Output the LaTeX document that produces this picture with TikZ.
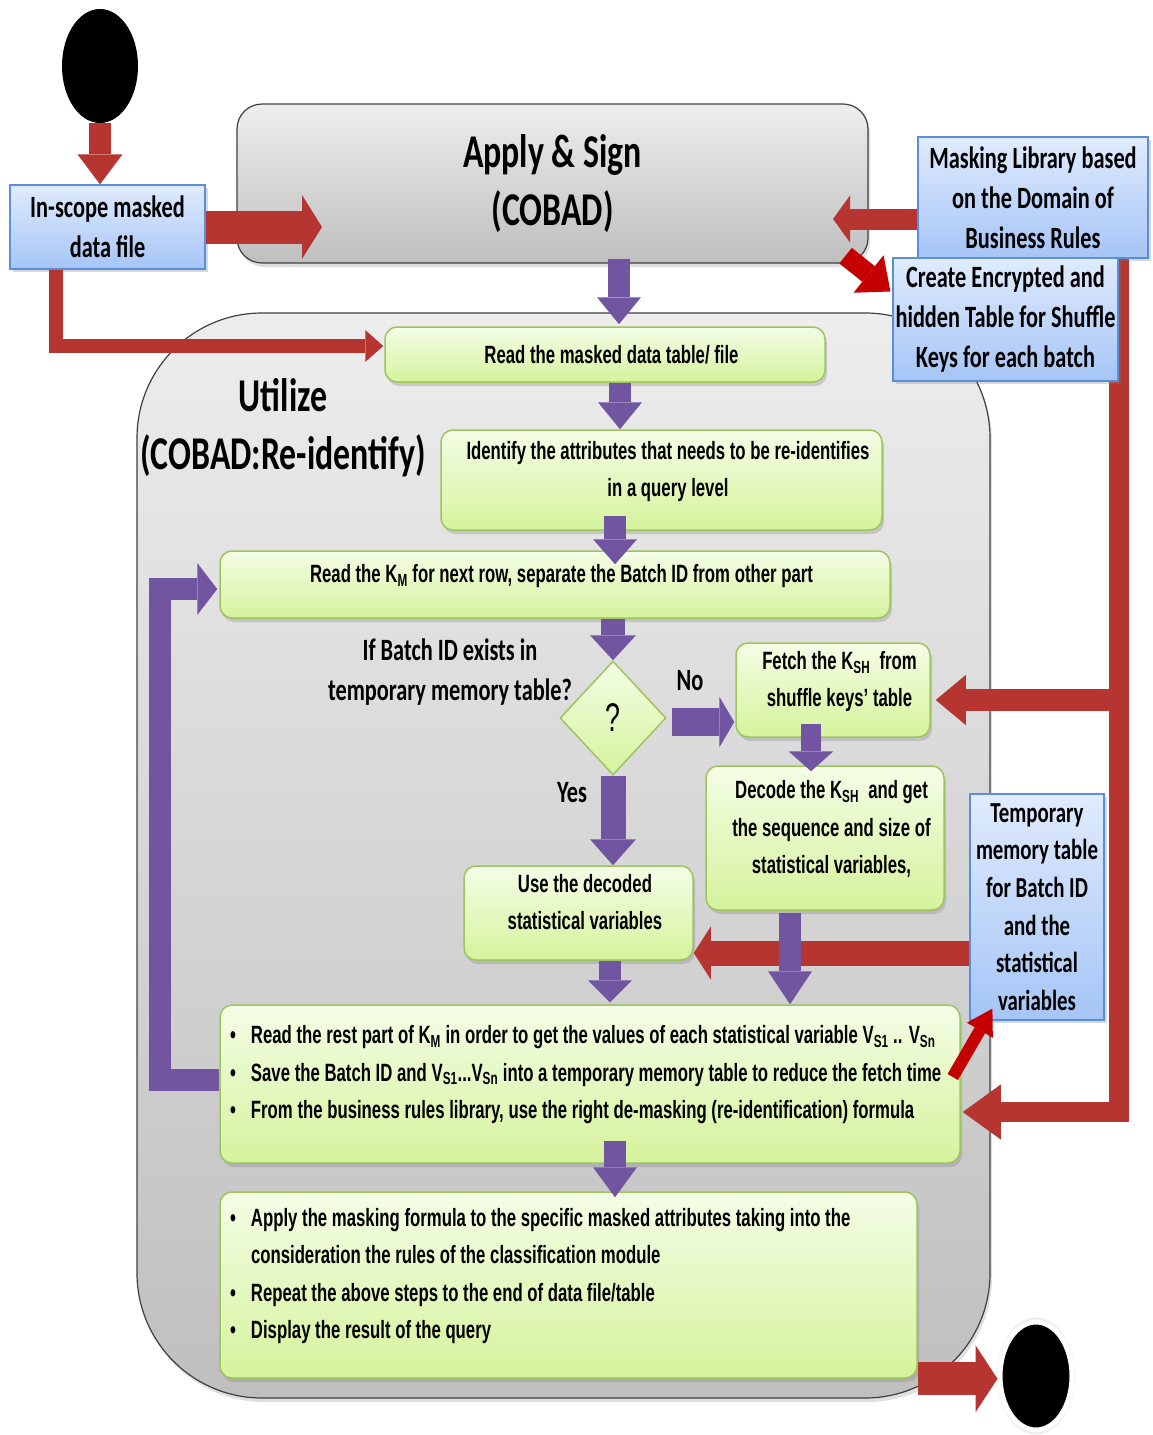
\documentclass[tikz,border=0pt]{standalone}
\usepackage{fontspec}
\newfontfamily\narrowfont{Liberation Sans}[FakeStretch=0.67]
\newfontfamily\calfont{Carlito}[FakeStretch=0.72]
\usetikzlibrary{shapes.geometric,arrows.meta,shadows,calc}

\definecolor{grnline}{HTML}{9DC45F}
\definecolor{grntop}{HTML}{F4FDE6}
\definecolor{grnbot}{HTML}{D5F39C}
\definecolor{bluline}{HTML}{5B8ED6}
\definecolor{blutop}{HTML}{E0EBFD}
\definecolor{blubot}{HTML}{A5C5F6}
\definecolor{arred}{HTML}{B73531}
\definecolor{arhot}{HTML}{C40000}
\definecolor{arpur}{HTML}{7155A1}
\definecolor{frametop}{HTML}{EDEDED}
\definecolor{framebot}{HTML}{BFBFBF}

\pgfdeclarelayer{bg}\pgfdeclarelayer{mid}\pgfdeclarelayer{fg}
\pgfsetlayers{bg,mid,main,fg}

\newcommand\greenfont{\narrowfont\bfseries\fontsize{25}{37.5}\selectfont}
\newcommand\bluefont{\calfont\bfseries\fontsize{31}{40}\selectfont}
\newcommand\tempfont{\calfont\bfseries\fontsize{29}{37.6}\selectfont}
\newcommand\titlefont{\calfont\bfseries\fontsize{47}{58}\selectfont}
\newcommand\labelfont{\calfont\bfseries\fontsize{31}{40}\selectfont}
\newcommand\bul{\makebox[21pt][l]{\textbullet}}
% centred lines in the green steps sit a little right of the box centre
\newcommand\ind{\hspace*{13pt}}

\tikzset{
  greenbox/.style={draw=grnline, line width=1.5pt, rounded corners=12pt,
    top color=grntop, bottom color=grnbot,
    drop shadow={shadow xshift=2pt, shadow yshift=-4pt, opacity=0.3},
    font=\greenfont, align=center, inner sep=4pt},
  lift/.style={text depth=22pt},
  bluebox/.style={draw=bluline, line width=1.2pt, top color=blutop, bottom color=blubot,
    drop shadow={shadow xshift=3pt, shadow yshift=-3pt, opacity=0.3},
    font=\bluefont, align=center, inner sep=2pt},
  graybox/.style={draw=black!75, line width=1.2pt, top color=frametop, bottom color=framebot},
  blackdot/.style={ellipse, fill=black, inner sep=0pt},
  blk/.style n args={3}{line width=#1, line cap=butt, line join=miter,
    -{Triangle[length=#2, width=#3, line width=0pt]}},
  redarr/.style={draw=arred},
  hotarr/.style={draw=arhot},
  purarr/.style={draw=arpur},
}

\begin{document}
\begin{tikzpicture}[x=1pt,y=-1pt]
\useasboundingbox (0,0) rectangle (1152,1435);

% ---------- background and the Utilize frame ----------
\begin{pgfonlayer}{bg}
  \fill[white] (0,0) rectangle (1152,1435);
  \node[graybox, rounded corners=125pt, minimum width=853pt, minimum height=1085pt,
        drop shadow={shadow xshift=2pt, shadow yshift=-4pt, opacity=0.25}] (util) at (563.5,855.5) {};
\end{pgfonlayer}

\node[font=\titlefont, align=center] (utillbl) at (283,428) {Utilize\\(COBAD:Re-identify)};

% ---------- start / end ----------
\node[blackdot, minimum width=76pt, minimum height=114pt] (start) at (100,66) {};
\node[blackdot, draw=white, line width=5pt, minimum width=72pt, minimum height=108pt,
      drop shadow={shadow xshift=0pt, shadow yshift=0pt, shadow scale=1.08, opacity=0.15}] (end) at (1036,1376) {};

% ---------- Apply & Sign ----------
\node[graybox, rounded corners=25pt, minimum width=631pt, minimum height=159pt,
      font=\titlefont, align=center,
      drop shadow={shadow xshift=2pt, shadow yshift=-4pt, opacity=0.25}] (apply) at (552.5,183.5) {Apply \& Sign\\(COBAD)};

% ---------- blue data boxes ----------
\node[bluebox, minimum width=195pt, minimum height=84pt] (inscope) at (107.5,227) {In-scope masked\\data file};
\node[bluebox, minimum width=230pt, minimum height=121pt] (mask) at (1033,197.5) {Masking Library based\\on the Domain of\\Business Rules};
\node[bluebox, minimum width=225pt, minimum height=123pt] (create) at (1005.5,319.5) {Create Encrypted and\\hidden Table for Shuffle\\Keys for each batch};
\node[bluebox, font=\tempfont, minimum width=134pt, minimum height=226pt] (temp) at (1037,907) {Temporary\\memory table\\for Batch ID\\and the\\statistical\\variables};

% ---------- green process steps ----------
\node[greenbox, minimum width=440pt, minimum height=55pt] (read1) at (605,354.5) {\ind Read the masked data table/ file};
\node[greenbox, lift, minimum width=441pt, minimum height=100pt] (ident) at (661.5,480) {\ind Identify the attributes that needs to be re-identifies\\\ind in a query level};
\node[greenbox, lift, minimum width=670pt, minimum height=67pt] (readkm) at (555,584.5) {\ind Read the K\textsubscript{M} for next row, separate the Batch ID from other part};
\node[diamond, draw=grnline, line width=1.5pt, top color=grntop, bottom color=grnbot, inner sep=0pt,
      minimum width=106pt, minimum height=114pt,
      font=\narrowfont\fontsize{40}{44}\selectfont] (dec) at (613,718) {?};
\node[greenbox, lift, minimum width=194pt, minimum height=94pt] (fetch) at (833,690) {\ind Fetch the K\textsubscript{SH}\ \ from\\\ind shuffle keys’ table};
\node[greenbox, lift, minimum width=238pt, minimum height=144pt] (decode) at (825,838) {\ind Decode the K\textsubscript{SH}\ \ and get\\\ind the sequence and size of\\\ind statistical variables,};
\node[greenbox, lift, minimum width=229pt, minimum height=94pt] (use) at (578.5,913) {\ind Use the decoded\\\ind statistical variables};
\node[greenbox, align=flush left, text width=720pt, text depth=99pt, minimum width=740pt, minimum height=158pt] (bul1) at (590,1084) {%
  \bul\mbox{Read the rest part of K\textsubscript{M} in order to get the values of each statistical variable V\textsubscript{S1} .. V\textsubscript{Sn}}\\
  \bul\mbox{Save the Batch ID and V\textsubscript{S1}...V\textsubscript{Sn} into a temporary memory table to reduce the fetch time}\\
  \bul\mbox{From the business rules library, use the right de-masking (re-identification) formula}};
\node[greenbox, align=flush left, text width=677pt, text depth=136pt, minimum width=697pt, minimum height=186pt] (bul2) at (568.5,1285) {%
  \bul\mbox{Apply the masking formula to the specific masked attributes taking into the}\\
  \hspace*{21pt}\mbox{consideration the rules of the classification module}\\
  \bul\mbox{Repeat the above steps to the end of data file/table}\\
  \bul\mbox{Display the result of the query}};

% ---------- decision labels ----------
\node[font=\labelfont, align=center] (question) at (450,672) {If Batch ID exists in\\temporary memory table?};
\node[font=\labelfont] (nolbl) at (690,681) {No};
\node[font=\labelfont] (yeslbl) at (572,793) {Yes};

% ---------- shuffle-key feed running down the right side ----------
\begin{pgfonlayer}{mid}
  \draw[redarr, blk={20pt}{38pt}{55pt}] ($(mask.south)+(86,0)$) |- ($(bul1.east)+(2,28)$);
\end{pgfonlayer}

% ---------- connectors ----------
\begin{pgfonlayer}{fg}
  \draw[redarr, blk={22pt}{30pt}{45pt}] (start.south) -- (start.south |- inscope.north);
  \coordinate (applyin) at (322,228);
  \draw[redarr, blk={33pt}{20pt}{64pt}] (inscope.east) -- (applyin |- inscope.east);
  \draw[redarr, blk={14pt}{18pt}{32pt}] ($(inscope.south)+(-51.5,0)$) |- ($(read1.west)+(-1,-8.5)$);
  \coordinate (applyright) at (833,219);
  \draw[redarr, blk={21pt}{17pt}{47pt}] (mask.west |- applyright) -- (applyright);
  \draw[hotarr, blk={20pt}{28pt}{48pt}] ($(apply.south east)+(-23,-8)$) -- ($(create.west)+(-2,-28)$);
  \draw[redarr, blk={22pt}{30pt}{50pt}] ($(fetch.east)+(189,10)$) -- ($(fetch.east)+(5,10)$);
  \draw[redarr, blk={25pt}{17pt}{53pt}] ($(temp.west)+(0,46)$) -- ($(use.east)+(0,40)$);
  \draw[hotarr, blk={12pt}{25pt}{30pt}] ($(bul1.east)+(-8,-7)$) -- ($(temp.south west)+(23,-12)$);
  \draw[redarr, blk={33pt}{22pt}{67pt}] (bul2.south east) -- (bul2.south east -| end.west);

  \draw[purarr, blk={22pt}{27pt}{44pt}] ($(apply.south)+(66.5,-5)$) -- ($(read1.north)+(14,-2)$);
  \draw[purarr, blk={22pt}{27pt}{44pt}] ($(read1.south)+(15,0)$) -- ($(ident.north)+(-41.5,0)$);
  \draw[purarr, blk={22pt}{25pt}{44pt}] ($(ident.south)+(-46.5,-15)$) -- ($(readkm.north)+(60,14)$);
  \draw[purarr, blk={24pt}{25pt}{46pt}] (dec.north |- readkm.south) -- (dec.north);
  \draw[purarr, blk={25pt}{26pt}{46pt}] (dec.south) -- (dec.south |- use.north);
  \draw[purarr, blk={28pt}{15pt}{51pt}] ($(dec.east)+(5,4)$) -- ($(fetch.west)+(-1,32)$);
  \draw[purarr, blk={20pt}{20pt}{45pt}] ($(fetch.south)+(-22,-14)$) -- ($(decode.north)+(-14,6)$);
  \draw[purarr, blk={22pt}{33pt}{44pt}] ($(decode.south)+(-35,2)$) -- ($(bul1.north)+(200,0)$);
  \draw[purarr, blk={22pt}{22pt}{44pt}] ($(use.south)+(31.5,0)$) -- ($(bul1.north)+(20,-2)$);
  \draw[purarr, blk={22pt}{30pt}{44pt}] ($(bul1.south)+(25,-23)$) -- ($(bul2.north)+(46.5,6)$);
  \draw[purarr, blk={22pt}{20pt}{52pt}] ($(bul1.west)+(0,-4)$) -| ($(readkm.west)+(-59,4.5)$) -- ($(readkm.west)+(-2,4.5)$);
\end{pgfonlayer}
\end{tikzpicture}
\end{document}
